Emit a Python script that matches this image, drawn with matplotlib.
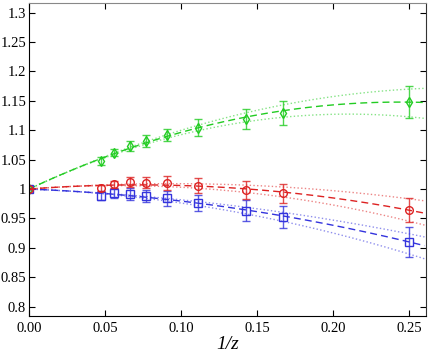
import numpy as np
import matplotlib
matplotlib.use('Agg')
import matplotlib.pyplot as plt

plt.rcParams['font.family'] = ['Liberation Serif', 'DejaVu Serif']

# 1/z values (z = 21, 18, 15, 13, 11, 9, 7, 6, 4) plus the limit point at 0
x = [0.0, 1/21, 1/18, 1/15, 1/13, 1/11, 1/9, 1/7, 1/6, 1/4]

green_y = [1.0, 1.048, 1.062, 1.074, 1.082, 1.092, 1.104, 1.120, 1.129, 1.148]
green_err = [0.0, 0.007, 0.0065, 0.0085, 0.010, 0.011, 0.0145, 0.017, 0.020, 0.027]

red_y = [1.0, 1.002, 1.0085, 1.012, 1.011, 1.0097, 1.0056, 0.9988, 0.9926, 0.9643]
red_err = [0.0, 0.005, 0.006, 0.0085, 0.010, 0.012, 0.013, 0.015, 0.016, 0.021]

blue_y = [1.0, 0.989, 0.993, 0.991, 0.9887, 0.984, 0.9767, 0.963, 0.952, 0.910]
blue_err = [0.0, 0.008, 0.0085, 0.010, 0.0105, 0.013, 0.014, 0.0176, 0.019, 0.025]

# quadratic fits y = 1 + a*x + b*x^2, band half widths c_hi*x^2 / c_lo*x^2
green_fit = (1.214, -2.49)
red_fit = (0.197, -1.364)
blue_fit = (-0.101, -1.036)
green_band = (0.355, 0.40)
red_band = (0.31, 0.30)
blue_band = (0.22, 0.33)

fig = plt.figure(figsize=(4.29, 3.54), dpi=100)
ax = fig.add_axes([0.0676, 0.1073, 0.9254, 0.8842])

xs = np.linspace(0, 0.26, 200)
series = [
    ('#22cc22', green_y, green_err, green_fit, green_band, 'd'),
    ('#3333dd', blue_y, blue_err, blue_fit, blue_band, 's'),
    ('#dd2222', red_y, red_err, red_fit, red_band, 'o'),
]
for col, y, err, fit, band, mk in series:
    a, b = fit
    yc = 1 + a * xs + b * xs**2
    ax.plot(xs, yc, '--', color=col, lw=1.0, dashes=(5, 3))
    ax.plot(xs, yc + band[0] * xs**2, ':', color=col, lw=1.0, alpha=0.55)
    ax.plot(xs, yc - band[1] * xs**2, ':', color=col, lw=1.0, alpha=0.55)
    ax.errorbar(x, y, yerr=err, fmt='none', ecolor=col, elinewidth=1.0,
                capsize=3, capthick=1.0, alpha=0.8)
    ax.plot(x, y, mk, color=col, mfc='none', ms=5.5, mew=1.0)

ax.set_xlim(0, 0.261)
ax.set_ylim(0.784, 1.3165)
ax.set_xticks([0, 0.05, 0.10, 0.15, 0.20, 0.25])
ax.set_xticklabels(['0.00', '0.05', '0.10', '0.15', '0.20', '0.25'])
ax.set_yticks([0.8, 0.85, 0.9, 0.95, 1.0, 1.05, 1.1, 1.15, 1.2, 1.25, 1.3])
ax.set_yticklabels(['0.8', '0.85', '0.9', '0.95', '1', '1.05', '1.1', '1.15',
                    '1.2', '1.25', '1.3'])
ax.tick_params(direction='in', top=True, right=True, length=4, width=0.8,
               labelsize=10.5)
ax.tick_params(axis='y', pad=2)
ax.tick_params(axis='x', pad=4)
ax.spines['top'].set_color('#888888')
ax.spines['right'].set_color('#333333')
ax.set_xlabel('1/z', fontsize=14, style='italic', labelpad=1)

fig.savefig('out.png', dpi=100)
